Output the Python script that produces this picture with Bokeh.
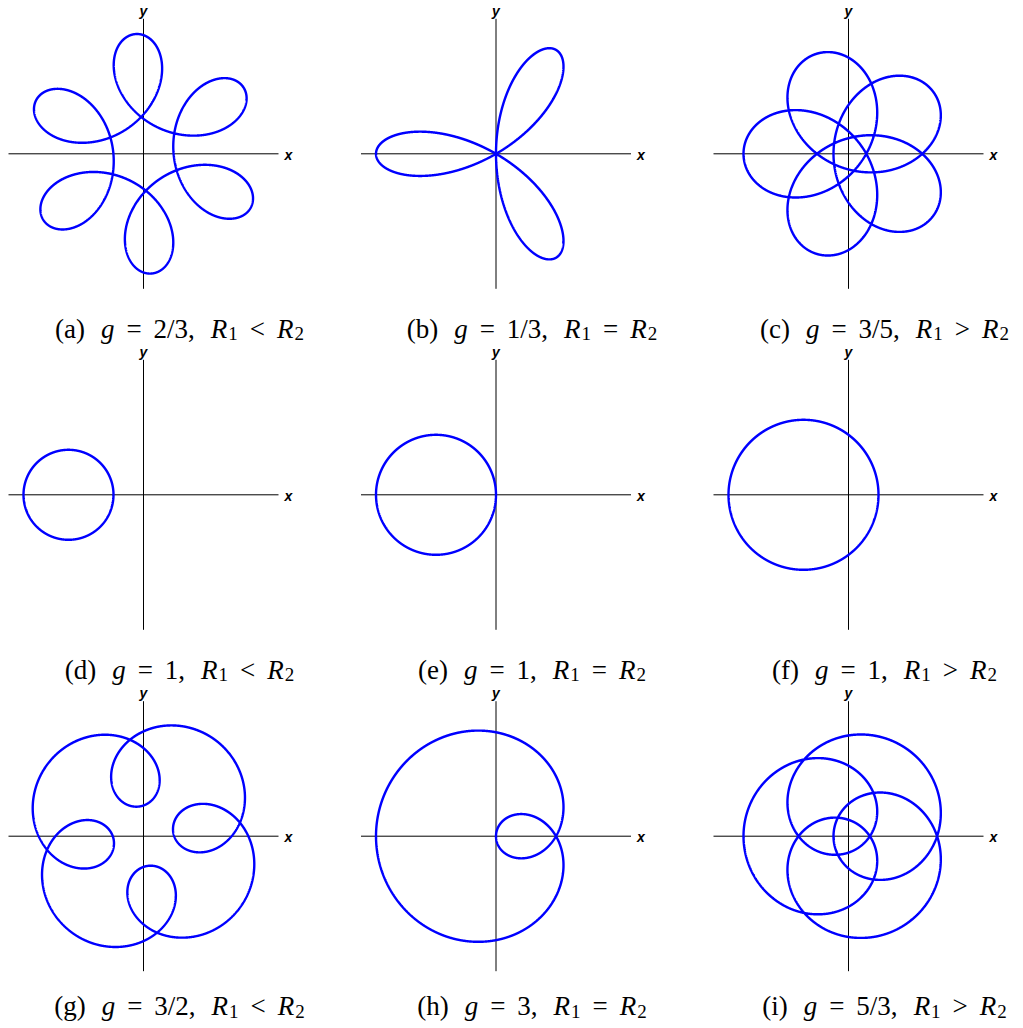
import numpy as np
from bokeh.plotting import figure
from bokeh.models import Range1d, Label
from bokeh.embed import file_html
from bokeh.resources import INLINE

# ---- data ----
panel_ids = ["a", "b", "c", "d", "e", "f", "g", "h", "i"]
g_num = [2, 1, 3, 1, 1, 1, 3, 3, 5]
g_den = [3, 3, 5, 1, 1, 1, 2, 1, 3]
g_text = ["2/3", "1/3", "3/5", "1", "1", "1", "3/2", "3", "5/3"]
r1_vals = [3, 4, 4, 3, 4, 5, 3, 4, 4]
r2_vals = [5, 4, 3, 5, 4, 3, 5, 4, 3]
relations = ["<", "=", ">", "<", "=", ">", "<", "=", ">"]
phase_deg = [22, 180, 180, 0, 0, 0, -32, 180, 180]
axis_limit = 9

# ---- layout (pixels) ----
PX_PER_UNIT = 15.0
FIG_W, FIG_H = 1018, 1024
col_origin_px = [143, 495.5, 848]
row_origin_px = [153.3, 494.3, 835.7]
CAPTION_DX_PX = 36
CAPTION_DY_PX = [175, 175, 170]

# ---- text metrics (Times / Liberation Serif, per 1000 em) ----
ROMAN = {"(": 333, ")": 333, "a": 444, "b": 500, "c": 444, "d": 500, "e": 444,
         "f": 333, "g": 500, "h": 500, "i": 278, "/": 278, ",": 250, "=": 564,
         "<": 564, ">": 564, " ": 250}
for ch in "0123456789":
    ROMAN[ch] = 500
ITALIC = {"g": 500, "R": 611}

CAP_FONT = "Liberation Serif"
CAP_SIZE = 27
SUB_SIZE = 19
GAP_WORD = 16
GAP_REL = 12


def width(txt, size, italic=False):
    table = ITALIC if italic else ROMAN
    return sum(table.get(c, 500) for c in txt) * size / 1000.0


def caption_pieces(pid, gt, rel):
    items = [
        ("(" + pid + ")", False, False, GAP_WORD),
        ("g", True, False, GAP_REL),
        ("=", False, False, GAP_REL),
        (gt + ",", False, False, GAP_WORD),
        ("R", True, False, 1),
        ("1", False, True, GAP_REL),
        (rel, False, False, GAP_REL),
        ("R", True, False, 1),
        ("2", False, True, 0),
    ]
    out = []
    x = 0.0
    for txt, it, sub, gap in items:
        size = SUB_SIZE if sub else CAP_SIZE
        out.append((txt, it, sub, x))
        x += width(txt, size, it) + gap
    return out, x


p = figure(width=FIG_W, height=FIG_H,
           x_range=Range1d(0, FIG_W / PX_PER_UNIT),
           y_range=Range1d(-FIG_H / PX_PER_UNIT, 0),
           x_axis_location=None, y_axis_location=None,
           min_border=0, output_backend="svg", toolbar_location=None)
p.outline_line_color = None
p.grid.visible = False
p.background_fill_color = "white"
p.border_fill_color = "white"

for k in range(9):
    row, col = divmod(k, 3)
    ox = col_origin_px[col] / PX_PER_UNIT
    oy = -row_origin_px[row] / PX_PER_UNIT

    # coordinate axes through the panel origin
    p.segment(x0=[ox - axis_limit, ox], y0=[oy, oy - axis_limit],
              x1=[ox + axis_limit, ox], y1=[oy, oy + axis_limit],
              line_color="black", line_width=1)

    g = g_num[k] / g_den[k]
    t = np.linspace(0, 4 * np.pi * g_den[k], 6000)
    ph = np.deg2rad(phase_deg[k])
    z = r1_vals[k] * np.exp(1j * ((g + 1) * t + ph)) - r2_vals[k] * np.exp(1j * (g - 1) * t)
    p.line(ox + z.real, oy + z.imag, line_color="blue", line_width=2.4)

    p.add_layout(Label(x=ox + axis_limit, y=oy, x_offset=6, y_offset=-1, text="x",
                       text_font="Liberation Sans", text_font_style="bold italic",
                       text_font_size="14px", text_color="black",
                       text_align="left", text_baseline="middle"))
    p.add_layout(Label(x=ox, y=oy + axis_limit, x_offset=0, y_offset=8, text="y",
                       text_font="Liberation Sans", text_font_style="bold italic",
                       text_font_size="14px", text_color="black",
                       text_align="center", text_baseline="alphabetic"))

    pieces, total = caption_pieces(panel_ids[k], g_text[k], relations[k])
    cx = ox + CAPTION_DX_PX / PX_PER_UNIT
    base = oy - CAPTION_DY_PX[row] / PX_PER_UNIT
    for txt, it, sub, off in pieces:
        p.add_layout(Label(x=cx, y=base, x_offset=off - total / 2.0,
                           y_offset=(-5 if sub else 0), text=txt,
                           text_font=CAP_FONT,
                           text_font_style=("italic" if it else "normal"),
                           text_font_size=(f"{SUB_SIZE}px" if sub else f"{CAP_SIZE}px"),
                           text_align="left", text_baseline="alphabetic",
                           text_color="black"))

open("out.html", "w").write(file_html(p, INLINE))
